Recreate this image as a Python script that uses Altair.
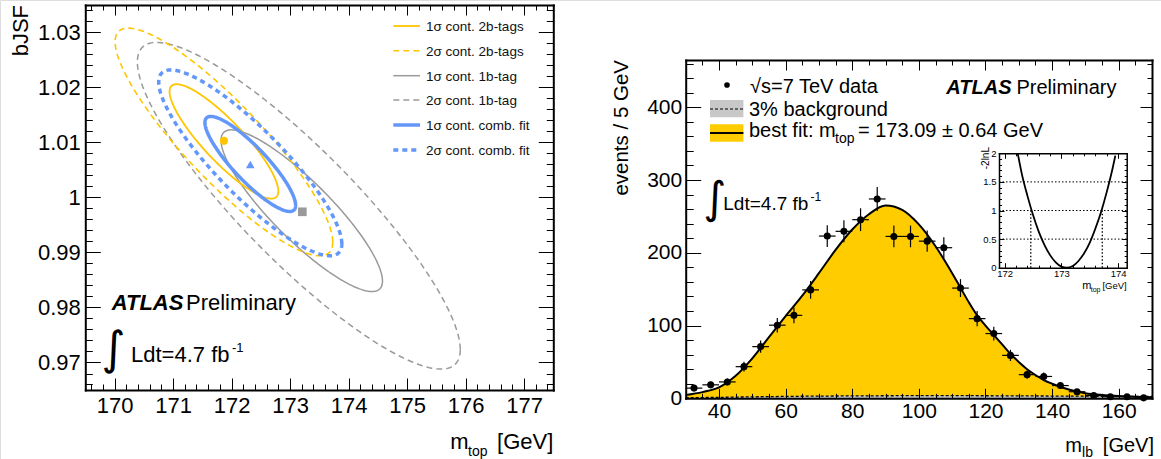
import math
import numpy as np
import pandas as pd
import altair as alt

W, H = 1161, 459
FONT = "Liberation Sans"
YEL_LINE = "#FFC600"
YEL_FILL = "#FFCC00"
BLUE = "#6497FA"
GRAY = "#9A9A9A"
BG_FILL = "#C8C8C8"

# ---------------- left panel: contours (centre, half extents, correlation) ----------------
ELL_NAME = ["1σ cont. 2b-tags", "2σ cont. 2b-tags", "1σ cont. 1b-tag",
            "2σ cont. 1b-tag", "1σ cont. comb. fit", "2σ cont. comb. fit"]
ELL_CX = [171.87, 171.87, 173.20, 173.15, 172.32, 172.32]
ELL_CY = [1.0102, 1.0101, 0.9976, 0.9985, 1.0061, 1.0063]
ELL_SX = [0.93, 1.86, 1.38, 2.76, 0.775, 1.565]
ELL_SY = [0.0104, 0.0207, 0.0147, 0.0297, 0.00864, 0.0169]
ELL_RHO = [-0.87, -0.88, -0.87, -0.88, -0.87, -0.87]

BEST_X = [171.87, 172.32, 173.21]
BEST_Y = [1.0103, 1.0060, 0.9974]

# ---------------- right panel: m_lb distribution ----------------
BIN_X = [32.5, 37.5, 42.5, 47.5, 52.5, 57.5, 62.5, 67.5, 72.5, 77.5, 82.5, 87.5, 92.5, 97.5,
         102.5, 107.5, 112.5, 117.5, 122.5, 127.5, 132.5, 137.5, 142.5, 147.5, 152.5, 157.5,
         162.5, 167.5]
DATA_Y = [14, 18.5, 22.5, 43.5, 71, 100.5, 114, 149, 223, 229.5, 245.5, 274, 222.5, 222.5,
          216, 207, 151.5, 109.5, 89, 59, 32.5, 30, 17.5, 9, 3.8, 2.2, 2.2, 0.6]
DATA_ERR = [3.7, 4.3, 4.7, 6.6, 8.4, 10.0, 10.7, 12.2, 14.9, 15.1, 15.7, 16.5, 14.9, 14.9,
            14.7, 14.4, 12.3, 10.5, 9.4, 7.7, 5.7, 5.5, 4.2, 3.0, 1.9, 1.5, 1.5, 0.8]
HALF_BIN = 2.5

FIT_X = [30, 35, 40, 45, 50, 55, 60, 65, 70, 75, 80, 85, 90, 95, 100, 105, 110, 112.5, 115,
         117.5, 120, 122.5, 125, 127.5, 130, 132.5, 135, 137.5, 140, 145, 150, 155, 160, 165, 170]
FIT_Y = [4.5, 8.5, 15, 31, 55, 84, 113, 141, 172, 204, 232, 253, 265, 259, 239, 209, 172, 152,
         132, 114, 100, 87, 74, 61, 50, 40, 32, 25, 20, 12, 7, 4.5, 3, 2, 1.5]

BG_X = [30, 40, 50, 60, 70, 80, 90, 100, 110, 120, 130, 140, 150, 160, 170]
BG_Y = [0.8, 1.3, 2.0, 2.6, 3.0, 3.3, 3.5, 3.6, 3.6, 3.5, 3.3, 3.1, 2.9, 2.7, 2.5]

# inset: -2 ln L scan
SCAN_M = [172.23, 172.3, 172.4, 172.5, 172.6, 172.7, 172.8, 172.9, 173.0, 173.09, 173.2,
          173.3, 173.4, 173.5, 173.6, 173.7, 173.8, 173.9, 173.95]
SCAN_L = [2.0, 1.65, 1.26, 0.92, 0.63, 0.40, 0.22, 0.095, 0.02, 0.0, 0.03, 0.117, 0.254,
          0.44, 0.69, 0.98, 1.33, 1.73, 1.96]
SCAN_ERR_M = [172.46, 173.72]
SCAN_LEVELS = [0.5, 1.0, 1.5]

# ---------------- layout (pixel placement of the panels) ----------------
LX_DOM, LX_RNG = [169.5, 177.5], [85.3, 553.3]
LY_DOM, LY_RNG = [0.965, 1.035], [390.0, 5.0]
RX_DOM, RX_RNG = [30, 170], [685.7, 1152.0]
RY_DOM, RY_RNG = [0, 465], [398.3, 60.0]
IX_DOM, IX_RNG = [171.9, 174.15], [999.0, 1126.7]
IY_DOM, IY_RNG = [0, 2], [267.7, 153.3]

ONE = pd.DataFrame({"k": [0]})
LABEL_EXPR = "'' + datum.value"


def sc(dom, rng):
    return alt.Scale(domain=list(dom), range=list(rng), nice=False, zero=False)


def grid_vals(lo, hi, step, majors):
    n = int(round((hi - lo) / step))
    vals = [round(lo + i * step, 6) for i in range(n + 1)]
    return [v for v in vals if all(abs(v - m) > step * 0.01 for m in majors)]


def ax(orient, offset, **kw):
    base = dict(orient=orient, offset=offset, grid=False, title=None, labelFlush=False,
                labelOverlap=False, labelBound=False, domainColor="black", tickColor="black",
                labelColor="black", labelFont=FONT, tickWidth=1, zindex=1, domainCap="square")
    base.update(kw)
    return alt.Axis(**base)


def axis_layer(xdom, xrng, ydom, yrng, xaxis, yaxis):
    d = pd.DataFrame({"ax": [xdom[0]], "ay": [ydom[0]]})
    return alt.Chart(d).mark_point(opacity=0).encode(
        x=alt.X("ax:Q", scale=sc(xdom, xrng), axis=xaxis),
        y=alt.Y("ay:Q", scale=sc(ydom, yrng), axis=yaxis))


def frame(xdom, xrng, ydom, yrng, xmaj, xmin, ymaj, ymin, t, fs, xpad, ypad, fw):
    x0, x1 = xrng
    yb, yt = yrng
    out = []
    out.append(axis_layer(xdom, xrng, ydom, yrng,
        ax("bottom", yb - H, values=xmaj, ticks=False, tickSize=0, domain=True, domainWidth=fw,
           labels=True, labelFontSize=fs, labelPadding=xpad, labelExpr=LABEL_EXPR),
        ax("left", -x0, values=ymaj, ticks=False, tickSize=0, domain=True, domainWidth=fw,
           labels=True, labelFontSize=fs, labelPadding=ypad, labelExpr=LABEL_EXPR)))
    out.append(axis_layer(xdom, xrng, ydom, yrng,
        ax("top", -yt, values=xmaj, ticks=False, tickSize=0, domain=True, domainWidth=fw, labels=False),
        ax("right", x1 - W, values=ymaj, ticks=False, tickSize=0, domain=True, domainWidth=fw, labels=False)))
    for (xv, yv, bl, ll, tl, rl) in [(xmaj, ymaj, t["b"][0], t["l"][0], t["t"][0], t["r"][0]),
                                      (xmin, ymin, t["b"][1], t["l"][1], t["t"][1], t["r"][1])]:
        out.append(axis_layer(xdom, xrng, ydom, yrng,
            ax("bottom", yb - bl - H, values=xv, ticks=True, tickSize=bl, domain=False, labels=False),
            ax("left", -(x0 + ll), values=yv, ticks=True, tickSize=ll, domain=False, labels=False)))
        out.append(axis_layer(xdom, xrng, ydom, yrng,
            ax("top", -(yt + tl), values=xv, ticks=True, tickSize=tl, domain=False, labels=False),
            ax("right", x1 - rl - W, values=yv, ticks=True, tickSize=rl, domain=False, labels=False)))
    return out


def text(t, x, y, size, align="left", baseline="alphabetic", style="normal", weight="normal",
         angle=0, font=FONT, color="#000000"):
    kw = dict(text=t, align=align, baseline=baseline, fontSize=size, font=font,
              fontStyle=style, fontWeight=weight, color=color)
    if angle:
        kw["angle"] = angle
    return alt.Chart(ONE).mark_text(**kw).encode(x=alt.value(x), y=alt.value(y))


def hrule(x0, x1, y, color, width, dash=None):
    kw = dict(color=color, strokeWidth=width)
    if dash:
        kw["strokeDash"] = dash
    return alt.Chart(ONE).mark_rule(**kw).encode(x=alt.value(x0), x2=alt.value(x1), y=alt.value(y))


layers = []

# ================= LEFT PANEL =================
LXS, LYS = sc(LX_DOM, LX_RNG), sc(LY_DOM, LY_RNG)
ELL_STYLE = {0: (YEL_LINE, 1.8, None), 1: (YEL_LINE, 1.6, [6, 4]), 2: (GRAY, 1.5, None),
             3: (GRAY, 1.5, [6, 4]), 4: (BLUE, 3.5, None), 5: (BLUE, 3.5, [5, 4])}
T = np.linspace(0, 2 * np.pi, 241)
for i in [3, 2, 1, 0, 5, 4]:
    c = math.sqrt(1 - ELL_RHO[i] ** 2)
    df = pd.DataFrame({
        "mtop": ELL_CX[i] + ELL_SX[i] * np.cos(T),
        "bjsf": ELL_CY[i] + ELL_SY[i] * (ELL_RHO[i] * np.cos(T) + c * np.sin(T)),
        "k": np.arange(T.size)})
    color, width, dash = ELL_STYLE[i]
    mk = dict(color=color, strokeWidth=width)
    if dash:
        mk["strokeDash"] = dash
    layers.append(alt.Chart(df).mark_line(**mk).encode(
        x=alt.X("mtop:Q", scale=LXS, axis=None),
        y=alt.Y("bjsf:Q", scale=LYS, axis=None),
        order="k:Q"))

BEST_STYLE = [("circle", YEL_LINE, 65), ("triangle-up", BLUE, 75), ("square", GRAY, 75)]
for i in range(3):
    shp, col, size = BEST_STYLE[i]
    d = pd.DataFrame({"mtop": [BEST_X[i]], "bjsf": [BEST_Y[i]]})
    layers.append(alt.Chart(d).mark_point(shape=shp, filled=True, color=col, size=size, opacity=1).encode(
        x=alt.X("mtop:Q", scale=LXS, axis=None), y=alt.Y("bjsf:Q", scale=LYS, axis=None)))

layers += frame(LX_DOM, LX_RNG, LY_DOM, LY_RNG,
                list(range(170, 178)), grid_vals(169.6, 177.4, 0.2, list(range(170, 178))),
                [0.97, 0.98, 0.99, 1, 1.01, 1.02, 1.03],
                grid_vals(0.966, 1.034, 0.002, [0.97, 0.98, 0.99, 1.0, 1.01, 1.02, 1.03]),
                {"b": (12, 6), "t": (10, 5), "l": (15, 7), "r": (15, 7)}, 22, 5, 5, 2)

LEG_Y = [26, 50.7, 75.7, 100, 125, 150]
for i in range(6):
    color, width, dash = ELL_STYLE[i]
    layers.append(hrule(393.3, 420, LEG_Y[i], color, width, dash))
    layers.append(text(ELL_NAME[i], 426, LEG_Y[i] + 5, 13.5, color="#111111"))

layers.append(text("bJSF", 27.5, 5, 22, align="right", angle=270))
layers.append(text("[GeV]", 553.3, 449, 22, align="right"))
layers.append(text("top", 487.5, 456, 14, align="right"))
layers.append(text("m", 468.5, 449, 22, align="right"))
layers.append(text("ATLAS", 111.7, 310, 22, style="italic", weight="bold"))
layers.append(text("Preliminary", 186, 310, 22))
layers.append(text("∫", 113.5, 350, 46, align="center", baseline="middle", font="DejaVu Sans"))
layers.append(text("Ldt=4.7 fb", 131, 361.7, 22))
layers.append(text("-1", 232, 352, 13))

# ================= RIGHT PANEL =================
RXS, RYS = sc(RX_DOM, RX_RNG), sc(RY_DOM, RY_RNG)
fit_df = pd.DataFrame({"mlb": FIT_X, "n": FIT_Y, "base": [0] * len(FIT_X)})
bg_df = pd.DataFrame({"mlb": BG_X, "n": BG_Y, "base": [0] * len(BG_X)})
dat = pd.DataFrame({"mlb": BIN_X, "n": DATA_Y,
                    "lo": [y - e for y, e in zip(DATA_Y, DATA_ERR)],
                    "hi": [y + e for y, e in zip(DATA_Y, DATA_ERR)],
                    "xl": [x - HALF_BIN for x in BIN_X],
                    "xh": [x + HALF_BIN for x in BIN_X]})

layers.append(alt.Chart(fit_df).mark_area(color=YEL_FILL, opacity=1, interpolate="monotone").encode(
    x=alt.X("mlb:Q", scale=RXS, axis=None), y=alt.Y("n:Q", scale=RYS, axis=None), y2="base:Q"))
layers.append(alt.Chart(bg_df).mark_area(color=BG_FILL, opacity=1, interpolate="monotone").encode(
    x=alt.X("mlb:Q", scale=RXS, axis=None), y=alt.Y("n:Q", scale=RYS, axis=None), y2="base:Q"))
layers.append(alt.Chart(bg_df).mark_line(color="black", strokeWidth=1.3, strokeDash=[3, 2],
                                         interpolate="monotone").encode(
    x=alt.X("mlb:Q", scale=RXS, axis=None), y=alt.Y("n:Q", scale=RYS, axis=None)))
layers.append(alt.Chart(fit_df).mark_line(color="black", strokeWidth=2, interpolate="monotone").encode(
    x=alt.X("mlb:Q", scale=RXS, axis=None), y=alt.Y("n:Q", scale=RYS, axis=None)))
layers.append(alt.Chart(dat).mark_rule(color="black", strokeWidth=1.2).encode(
    x=alt.X("mlb:Q", scale=RXS, axis=None), y=alt.Y("lo:Q", scale=RYS, axis=None), y2="hi:Q"))
layers.append(alt.Chart(dat).mark_rule(color="black", strokeWidth=1.2).encode(
    x=alt.X("xl:Q", scale=RXS, axis=None), x2="xh:Q", y=alt.Y("n:Q", scale=RYS, axis=None)))
layers.append(alt.Chart(dat).mark_circle(color="black", size=50, opacity=1).encode(
    x=alt.X("mlb:Q", scale=RXS, axis=None), y=alt.Y("n:Q", scale=RYS, axis=None)))

RX_MAJ = [40, 60, 80, 100, 120, 140, 160]
RY_MAJ = [0, 100, 200, 300, 400]
layers += frame(RX_DOM, RX_RNG, RY_DOM, RY_RNG,
                RX_MAJ, grid_vals(30, 170, 5, RX_MAJ), RY_MAJ, grid_vals(20, 460, 20, RY_MAJ),
                {"b": (10, 5), "t": (10, 5), "l": (15, 7.5), "r": (12, 5)}, 21, 2, 4, 2)

layers.append(alt.Chart(ONE).mark_circle(color="black", size=32, opacity=1).encode(
    x=alt.value(727), y=alt.value(85)))
layers.append(text("√s=7 TeV data", 750, 93, 20))
layers.append(alt.Chart(ONE).mark_rect(color=BG_FILL).encode(
    x=alt.value(710), x2=alt.value(743.4), y=alt.value(100), y2=alt.value(117.3)))
layers.append(hrule(710, 743.4, 109, "black", 1.2, [3, 2]))
layers.append(text("3% background", 749, 115.5, 20))
layers.append(alt.Chart(ONE).mark_rect(color=YEL_FILL).encode(
    x=alt.value(710), x2=alt.value(743.4), y=alt.value(124.3), y2=alt.value(141.7)))
layers.append(hrule(710, 743.4, 133, "black", 2))
layers.append(text("best fit: m", 749, 137, 20))
layers.append(text("top", 835, 143, 14))
layers.append(text("= 173.09 ± 0.64 GeV", 858, 137, 20))
layers.append(text("ATLAS", 946.3, 94, 20, style="italic", weight="bold"))
layers.append(text("Preliminary", 1016.4, 94, 20))
layers.append(text("∫", 715, 200, 44, align="center", baseline="middle", font="DejaVu Sans"))
layers.append(text("Ldt=4.7 fb", 723.3, 210, 19))
layers.append(text("-1", 810.5, 201, 12))

layers.append(text("events /  5 GeV", 628, 60, 20.5, align="right", angle=270))
layers.append(text("[GeV]", 1154, 451.5, 20, align="right"))
layers.append(text("lb", 1093, 457, 14, align="right"))
layers.append(text("m", 1082, 451.5, 20, align="right"))

# ================= INSET =================
IXS, IYS = sc(IX_DOM, IX_RNG), sc(IY_DOM, IY_RNG)
lv = pd.DataFrame({"l": SCAN_LEVELS, "x0": [IX_DOM[0]] * 3, "x1": [IX_DOM[1]] * 3})
layers.append(alt.Chart(lv).mark_rule(color="black", strokeWidth=1, strokeDash=[1.5, 2]).encode(
    x=alt.X("x0:Q", scale=IXS, axis=None), x2="x1:Q", y=alt.Y("l:Q", scale=IYS, axis=None)))
vv = pd.DataFrame({"m": SCAN_ERR_M, "y0": [0, 0], "y1": [1, 1]})
layers.append(alt.Chart(vv).mark_rule(color="black", strokeWidth=1.3, strokeDash=[1.5, 2]).encode(
    x=alt.X("m:Q", scale=IXS, axis=None), y=alt.Y("y0:Q", scale=IYS, axis=None), y2="y1:Q"))
scan = pd.DataFrame({"m": SCAN_M, "l": SCAN_L})
layers.append(alt.Chart(scan).mark_line(color="black", strokeWidth=1.8, interpolate="monotone").encode(
    x=alt.X("m:Q", scale=IXS, axis=None), y=alt.Y("l:Q", scale=IYS, axis=None)))
IX_MAJ = [172, 173, 174]
IY_MAJ = [0, 0.5, 1, 1.5, 2]
layers += frame(IX_DOM, IX_RNG, IY_DOM, IY_RNG,
                IX_MAJ, grid_vals(172.0, 174.0, 0.2, IX_MAJ), IY_MAJ, grid_vals(0, 2, 0.1, IY_MAJ),
                {"b": (5, 2.5), "t": (5, 2.5), "l": (5, 2.5), "r": (5, 2.5)}, 9.5, 1, 3, 1.5)
layers.append(text("-2lnL", 989, 147, 10, align="right", angle=270))
layers.append(text("[GeV]", 1126.7, 289, 9.5, align="right"))
layers.append(text("top", 1100.5, 291.5, 7, align="right"))
layers.append(text("m", 1091.5, 289, 11, align="right"))

chart = alt.layer(*layers).resolve_scale(x="independent", y="independent").resolve_axis(
    x="independent", y="independent").properties(
    width=W, height=H, padding=0, autosize=alt.AutoSizeParams(type="none")).configure_view(
    strokeWidth=0).configure(background="white")

chart.save("out.html", embed_options={"renderer": "svg", "actions": False})
